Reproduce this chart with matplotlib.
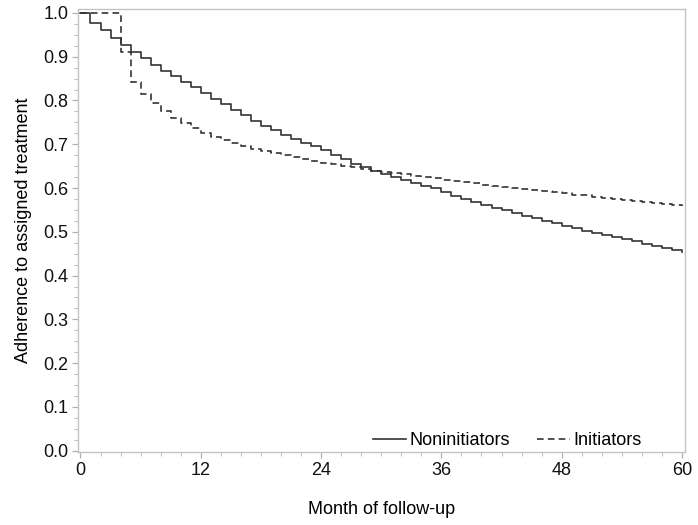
import matplotlib
matplotlib.use("Agg")
import matplotlib.pyplot as plt
from matplotlib.ticker import MultipleLocator, FormatStrFormatter

# ----------------------------------------
# DATA
# ----------------------------------------
months = list(range(0, 61))

noninitiators = [
    1.000, 0.978, 0.961, 0.942, 0.927, 0.911, 0.896, 0.881, 0.867, 0.855,
    0.843, 0.830, 0.817, 0.804, 0.792, 0.779, 0.767, 0.754, 0.742, 0.732,
    0.722, 0.713, 0.704, 0.695, 0.686, 0.676, 0.667, 0.656, 0.648, 0.640,
    0.632, 0.625, 0.618, 0.611, 0.605, 0.599, 0.592, 0.582, 0.575, 0.568,
    0.561, 0.555, 0.549, 0.543, 0.537, 0.531, 0.525, 0.519, 0.513, 0.508,
    0.503, 0.498, 0.493, 0.488, 0.483, 0.478, 0.473, 0.468, 0.463, 0.458,
    0.453,
]

initiators = [
    1.000, 1.000, 1.000, 1.000, 0.910, 0.843, 0.814, 0.794, 0.775, 0.760,
    0.748, 0.737, 0.726, 0.717, 0.709, 0.702, 0.696, 0.690, 0.684, 0.679,
    0.675, 0.670, 0.666, 0.662, 0.658, 0.654, 0.650, 0.647, 0.643, 0.640,
    0.637, 0.634, 0.631, 0.628, 0.625, 0.622, 0.619, 0.616, 0.613, 0.611,
    0.608, 0.605, 0.603, 0.600, 0.598, 0.595, 0.593, 0.590, 0.588, 0.585,
    0.583, 0.580, 0.578, 0.576, 0.573, 0.571, 0.568, 0.566, 0.563, 0.561,
    0.558,
]

x_ticks = [0, 12, 24, 36, 48, 60]

# ----------------------------------------
# PLOT
# ----------------------------------------
plt.rcParams["font.family"] = ["Liberation Sans", "DejaVu Sans"]

fig = plt.figure(figsize=(6.98, 5.25), dpi=100)
ax = fig.add_axes([0.1117, 0.139, 0.8697, 0.8439])

line_color = "#333333"
ax.step(months, noninitiators, where="post", color=line_color, lw=1.2,
        label="Noninitiators")
ax.step(months, initiators, where="post", color=line_color, lw=1.2,
        linestyle=(0, (4, 2.5)), label="Initiators")

ax.set_xlim(-0.25, 60.3)
ax.set_ylim(-0.003, 1.009)

ax.set_xticks(x_ticks)
ax.xaxis.set_minor_locator(MultipleLocator(2))
ax.yaxis.set_major_locator(MultipleLocator(0.1))
ax.yaxis.set_minor_locator(MultipleLocator(0.025))
ax.yaxis.set_major_formatter(FormatStrFormatter("%.1f"))

for side in ["top", "right", "bottom", "left"]:
    ax.spines[side].set_color("#c4c4c4")
    ax.spines[side].set_linewidth(1.0)

ax.tick_params(which="major", length=4, width=0.9, color="#b0b0b0",
               labelsize=13, labelcolor="#111111", pad=3)
ax.tick_params(which="minor", length=3, width=0.8, color="#c0c0c0")

ax.set_xlabel("Month of follow-up", fontsize=13, labelpad=16)
ax.set_ylabel("Adherence to assigned treatment", fontsize=13, labelpad=8)

ax.legend(loc="lower right", ncol=2, frameon=False, fontsize=13,
          handlelength=1.8, handletextpad=0.2, columnspacing=1.5,
          bbox_to_anchor=(0.955, -0.03))

fig.savefig("out.png", dpi=100)
